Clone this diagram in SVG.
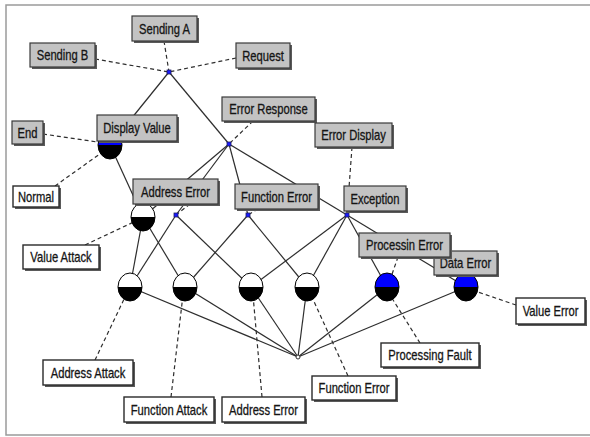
<svg xmlns="http://www.w3.org/2000/svg" xmlns:xlink="http://www.w3.org/1999/xlink" width="590" height="437" viewBox="0 0 590 437">
  <style>
    text { font-family: "Liberation Sans", Arial, sans-serif; font-size: 14px; fill: #151515; stroke: #151515; stroke-width: 0.3; text-anchor: middle; }
    .solid { stroke: #2e2e2e; stroke-width: 1.2; fill: none; }
    .dash { stroke: #2e2e2e; stroke-width: 1.2; fill: none; stroke-dasharray: 4 3; }
    .gbox { fill: #c3c3c3; stroke: #3a3a3a; stroke-width: 1.2; }
    .wbox { fill: #ffffff; stroke: #2a2a2a; stroke-width: 1.4; }
    .shadow { fill: #5a5a5a; }
    .junction { fill: #1a1aff; stroke: #202060; stroke-width: 0.8; }
    .sink { fill: #ffffff; stroke: #333333; stroke-width: 1; }
    .cw { fill: #ffffff; }
    .cb { fill: #000000; }
    .cblue { fill: #0000ff; }
    .rim { fill: none; stroke: #000000; stroke-width: 1; }
  </style>
  <defs>
    <!-- place with a white upper half -->
    <g id="placeWhite">
      <path class="cw" d="M-12,0 A12,14 0 0 1 12,0 Z"/>
      <path class="cb" d="M-12,0 A12,14 0 0 0 12,0 Z"/>
      <ellipse class="rim" rx="12" ry="14"/>
    </g>
    <!-- place with a blue upper half -->
    <g id="placeBlue">
      <path class="cblue" d="M-12,0 A12,14 0 0 1 12,0 Z"/>
      <path class="cb" d="M-12,0 A12,14 0 0 0 12,0 Z"/>
      <ellipse class="rim" rx="12" ry="14"/>
    </g>
    <rect id="jn" class="junction" x="-2" y="-2" width="4" height="4"/>
  </defs>

  <rect x="0" y="0" width="590" height="437" fill="#ffffff"/>
  <rect x="6" y="5" width="600" height="430" fill="#ffffff" stroke="#9a9a9a" stroke-width="1.5"/>

  <!-- connectors -->
  <g id="connectors">
    <line class="solid" x1="169" y1="72" x2="110" y2="145"/>
    <line class="solid" x1="169" y1="72" x2="229" y2="144"/>
    <line class="solid" x1="229" y1="144" x2="143" y2="217"/>
    <line class="solid" x1="229" y1="144" x2="176" y2="215"/>
    <line class="solid" x1="229" y1="144" x2="248" y2="215"/>
    <line class="solid" x1="229" y1="144" x2="347" y2="215"/>
    <line class="solid" x1="110" y1="145" x2="143" y2="217"/>
    <line class="solid" x1="143" y1="217" x2="130" y2="287"/>
    <line class="solid" x1="143" y1="217" x2="185" y2="287"/>
    <line class="solid" x1="176" y1="215" x2="130" y2="287"/>
    <line class="solid" x1="176" y1="215" x2="251" y2="287"/>
    <line class="solid" x1="248" y1="215" x2="185" y2="287"/>
    <line class="solid" x1="248" y1="215" x2="307" y2="287"/>
    <line class="solid" x1="347" y1="215" x2="251" y2="287"/>
    <line class="solid" x1="347" y1="215" x2="307" y2="287"/>
    <line class="solid" x1="347" y1="215" x2="387" y2="287"/>
    <line class="solid" x1="347" y1="215" x2="466" y2="287"/>
    <line class="solid" x1="298" y1="357" x2="130" y2="287"/>
    <line class="solid" x1="298" y1="357" x2="185" y2="287"/>
    <line class="solid" x1="298" y1="357" x2="251" y2="287"/>
    <line class="solid" x1="298" y1="357" x2="307" y2="287"/>
    <line class="solid" x1="298" y1="357" x2="387" y2="287"/>
    <line class="solid" x1="298" y1="357" x2="466" y2="287"/>

    <line class="dash" x1="164" y1="41" x2="169" y2="72"/>
    <line class="dash" x1="95" y1="59" x2="169" y2="72"/>
    <line class="dash" x1="236" y1="58" x2="169" y2="72"/>
    <line class="dash" x1="43" y1="134" x2="104" y2="143"/>
    <line class="dash" x1="55" y1="186" x2="104" y2="151"/>
    <line class="dash" x1="253" y1="121" x2="229" y2="144"/>
    <line class="dash" x1="190" y1="204" x2="176" y2="215"/>
    <line class="dash" x1="258" y1="209" x2="248" y2="215"/>
    <line class="dash" x1="352" y1="147" x2="347" y2="215"/>
    <line class="dash" x1="398" y1="257" x2="390" y2="280"/>
    <line class="dash" x1="85" y1="245" x2="138" y2="220"/>
    <line class="dash" x1="95" y1="360" x2="126" y2="295"/>
    <line class="dash" x1="171" y1="397" x2="183" y2="295"/>
    <line class="dash" x1="262" y1="397" x2="253" y2="295"/>
    <line class="dash" x1="348" y1="376" x2="311" y2="295"/>
    <line class="dash" x1="420" y1="343" x2="390" y2="295"/>
    <line class="dash" x1="516" y1="305" x2="472" y2="290"/>
  </g>

  <!-- junctions -->
  <use id="j-top" href="#jn" x="169" y="72"/>
  <use id="j-error-response" href="#jn" x="229" y="144"/>
  <use id="j-address-error" href="#jn" x="176" y="215"/>
  <use id="j-function-error" href="#jn" x="248" y="215"/>
  <use id="j-exception" href="#jn" x="347" y="215"/>
  <g id="j-bottom"><circle class="sink" cx="298" cy="357" r="2"/></g>

  <!-- places -->
  <g id="p-display"><use href="#placeBlue" x="110" y="145"/></g>
  <g id="p-value-attack"><use href="#placeWhite" x="143" y="217"/></g>
  <g id="p-address-attack"><use href="#placeWhite" x="130" y="287"/></g>
  <g id="p-function-attack"><use href="#placeWhite" x="185" y="287"/></g>
  <g id="p-address-error"><use href="#placeWhite" x="251" y="287"/></g>
  <g id="p-function-error"><use href="#placeWhite" x="307" y="287"/></g>
  <g id="p-processing-fault"><use href="#placeBlue" x="387" y="287"/></g>
  <g id="p-value-error"><use href="#placeBlue" x="466" y="287"/></g>

  <!-- transition labels (grey); text is drawn narrow via a horizontal scale -->
  <g id="sending-a"><rect class="shadow" x="134" y="18" width="65" height="25"/><rect class="gbox" x="132" y="16" width="65" height="25"/><text transform="translate(164.5 33.5) scale(0.8 1)">Sending A</text></g>
  <g id="sending-b"><rect class="shadow" x="32" y="45" width="65" height="24"/><rect class="gbox" x="30" y="43" width="65" height="24"/><text transform="translate(62.5 60) scale(0.8 1)">Sending B</text></g>
  <g id="request"><rect class="shadow" x="238" y="45" width="54" height="25"/><rect class="gbox" x="236" y="43" width="54" height="25"/><text transform="translate(263 60.5) scale(0.8 1)">Request</text></g>
  <g id="display-value"><rect class="shadow" x="99" y="117" width="80" height="26"/><rect class="gbox" x="97" y="115" width="80" height="26"/><text transform="translate(137 133) scale(0.8 1)">Display Value</text></g>
  <g id="end"><rect class="shadow" x="14" y="123" width="31" height="23"/><rect class="gbox" x="12" y="121" width="31" height="23"/><text transform="translate(27.5 137.5) scale(0.8 1)">End</text></g>
  <g id="error-response"><rect class="shadow" x="224" y="99" width="93" height="24"/><rect class="gbox" x="222" y="97" width="93" height="24"/><text transform="translate(268.5 114) scale(0.8 1)">Error Response</text></g>
  <g id="error-display"><rect class="shadow" x="317" y="125" width="77" height="24"/><rect class="gbox" x="315" y="123" width="77" height="24"/><text transform="translate(353.5 140) scale(0.8 1)">Error Display</text></g>
  <g id="address-error-t"><rect class="shadow" x="135" y="181" width="85" height="25"/><rect class="gbox" x="133" y="179" width="85" height="25"/><text transform="translate(175.5 196.5) scale(0.8 1)">Address Error</text></g>
  <g id="function-error-t"><rect class="shadow" x="237" y="186" width="83" height="25"/><rect class="gbox" x="235" y="184" width="83" height="25"/><text transform="translate(276.5 201.5) scale(0.8 1)">Function Error</text></g>
  <g id="exception"><rect class="shadow" x="346" y="188" width="62" height="25"/><rect class="gbox" x="344" y="186" width="62" height="25"/><text transform="translate(375 203.5) scale(0.8 1)">Exception</text></g>
  <g id="data-error"><rect class="shadow" x="436" y="253" width="63" height="24"/><rect class="gbox" x="434" y="251" width="63" height="24"/><text transform="translate(465.5 268) scale(0.8 1)">Data Error</text></g>
  <g id="processin-error"><rect class="shadow" x="361" y="235" width="91" height="24"/><rect class="gbox" x="359" y="233" width="91" height="24"/><text transform="translate(404.5 250) scale(0.8 1)">Processin Error</text></g>

  <!-- place labels (white) -->
  <g id="normal"><rect class="shadow" x="15" y="188" width="46" height="21"/><rect class="wbox" x="13" y="186" width="46" height="21"/><text transform="translate(36 201.5) scale(0.8 1)">Normal</text></g>
  <g id="value-attack"><rect class="shadow" x="25" y="247" width="76" height="24"/><rect class="wbox" x="23" y="245" width="76" height="24"/><text transform="translate(61 262) scale(0.8 1)">Value Attack</text></g>
  <g id="address-attack"><rect class="shadow" x="45" y="362" width="90" height="25"/><rect class="wbox" x="43" y="360" width="90" height="25"/><text transform="translate(88 377.5) scale(0.8 1)">Address Attack</text></g>
  <g id="function-attack"><rect class="shadow" x="126" y="399" width="90" height="25"/><rect class="wbox" x="124" y="397" width="90" height="25"/><text transform="translate(169 414.5) scale(0.8 1)">Function Attack</text></g>
  <g id="address-error-p"><rect class="shadow" x="224" y="399" width="83" height="25"/><rect class="wbox" x="222" y="397" width="83" height="25"/><text transform="translate(263.5 414.5) scale(0.8 1)">Address Error</text></g>
  <g id="function-error-p"><rect class="shadow" x="314" y="378" width="84" height="24"/><rect class="wbox" x="312" y="376" width="84" height="24"/><text transform="translate(354 393) scale(0.8 1)">Function Error</text></g>
  <g id="processing-fault"><rect class="shadow" x="383" y="345" width="98" height="24"/><rect class="wbox" x="381" y="343" width="98" height="24"/><text transform="translate(430 360) scale(0.8 1)">Processing Fault</text></g>
  <g id="value-error"><rect class="shadow" x="518" y="300" width="69" height="26"/><rect class="wbox" x="516" y="298" width="69" height="26"/><text transform="translate(550.5 316) scale(0.8 1)">Value Error</text></g>
</svg>
